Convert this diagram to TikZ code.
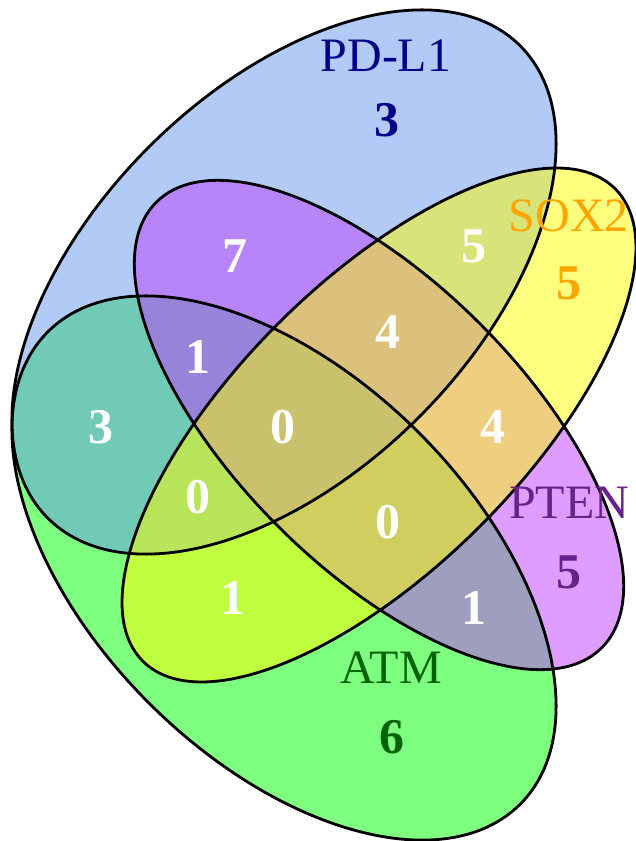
\documentclass[tikz,border=0pt]{standalone}
\usepackage{fontspec}
\setmainfont{Liberation Serif}
\definecolor{cgreen}{RGB}{0,255,0}
\definecolor{cblue}{RGB}{100,149,237}
\definecolor{cpurple}{RGB}{191,62,255}
\definecolor{cyellow}{RGB}{255,255,0}
\definecolor{tblue}{RGB}{0,0,139}
\definecolor{torange}{RGB}{255,165,0}
\definecolor{tpurple}{RGB}{104,34,139}
\definecolor{tgreen}{RGB}{0,100,0}
\begin{document}
\begin{tikzpicture}[x=1pt,y=1pt,
  setfill/.style={fill opacity=0.5},
  outline/.style={draw=black,line width=2.8pt},
  catlab/.style={inner sep=0pt,font=\fontsize{48}{48}\selectfont},
  num/.style={inner sep=0pt,font=\fontsize{50}{50}\selectfont\bfseries},
  wnum/.style={num,text=white}]
\useasboundingbox (0,0) rectangle (636,841);
% fills
\fill[cgreen,setfill,rotate around={-45:(284,273)}] (284,273) ellipse [x radius=334pt,y radius=191pt];
\fill[cblue,setfill,rotate around={45:(284,559)}] (284,559) ellipse [x radius=334pt,y radius=191pt];
\fill[cpurple,setfill,rotate around={-45:(379,416)}] (379,416) ellipse [x radius=315pt,y radius=143pt];
\fill[cyellow,setfill,rotate around={45:(379,416)}] (379,416) ellipse [x radius=334pt,y radius=143pt];
% outlines
\draw[outline,rotate around={-45:(284,273)}] (284,273) ellipse [x radius=334pt,y radius=191pt];
\draw[outline,rotate around={45:(284,559)}] (284,559) ellipse [x radius=334pt,y radius=191pt];
\draw[outline,rotate around={-45:(379,416)}] (379,416) ellipse [x radius=315pt,y radius=143pt];
\draw[outline,rotate around={45:(379,416)}] (379,416) ellipse [x radius=334pt,y radius=143pt];
% category labels
\node[catlab,text=tblue] (lpdl1) at (386,785) {PD-L1};
\node[catlab,text=torange] (lsox2) at (569,625) {SOX2};
\node[catlab,text=tpurple] (lpten) at (569,338) {PTEN};
\node[catlab,text=tgreen] (latm) at (391,173) {ATM};
% single-set counts
\node[num,text=tblue] (npdl1) at (387,721) {3};
\node[num,text=torange] (nsox2) at (569,558) {5};
\node[num,text=tpurple] (npten) at (569,269) {5};
\node[num,text=tgreen] (natm) at (392,104) {6};
% overlaps
\node[wnum] (n7) at (235,585) {7};
\node[wnum] (n5) at (474,595) {5};
\node[wnum] (n1a) at (198,484) {1};
\node[wnum] (n4a) at (388,509) {4};
\node[wnum] (n3) at (101,414) {3};
\node[wnum] (n0a) at (283,414) {0};
\node[wnum] (n4b) at (493,414) {4};
\node[wnum] (n0b) at (198,344) {0};
\node[wnum] (n0c) at (388,319) {0};
\node[wnum] (n1b) at (233,243) {1};
\node[wnum] (n1c) at (474,233) {1};
\end{tikzpicture}
\end{document}
